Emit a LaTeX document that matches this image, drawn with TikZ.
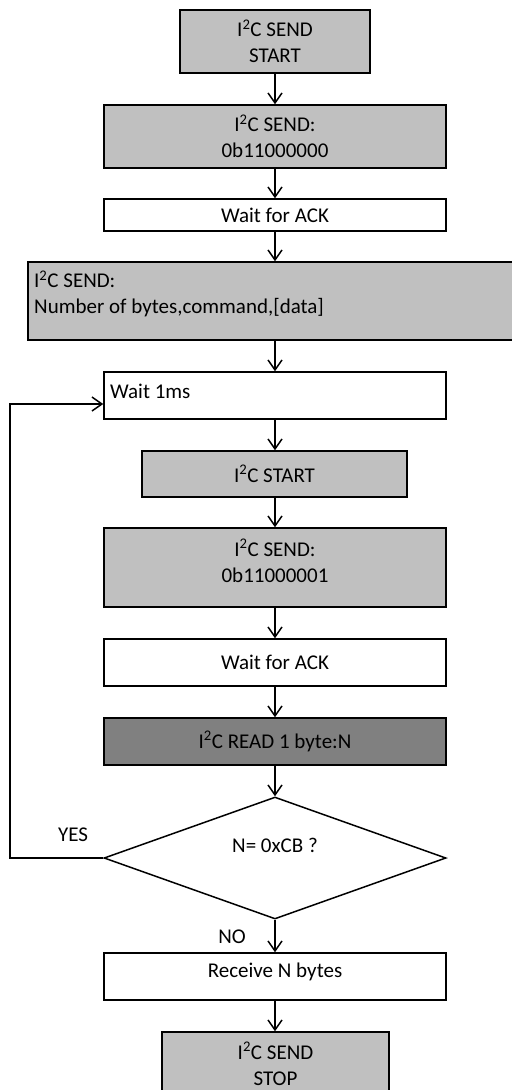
\documentclass[tikz,border=0pt]{standalone}
\usepackage{fontspec}
\setmainfont{Carlito}
\usetikzlibrary{arrows.meta,shapes.geometric}
\definecolor{lightg}{HTML}{C0C0C0}
\definecolor{darkg}{HTML}{808080}
\begin{document}
\begin{tikzpicture}[x=1bp,y=-1bp,
  font=\fontsize{21bp}{26bp}\selectfont,
  box/.style={draw=black, line width=1.5bp, inner sep=0pt, align=center, rectangle},
  gbox/.style={box, fill=lightg},
  dbox/.style={box, fill=darkg},
  txt/.style={inner sep=0pt, align=center},
  arr/.style={line width=1.5bp, -{Straight Barb[length=10bp,width=14bp,line width=1.5bp]}},
  lab/.style={inner sep=0pt}
]
\useasboundingbox (0,0) rectangle (512,1090);
\clip (0,0) rectangle (512,1090);

\node[gbox, minimum width=190bp, minimum height=63bp] (b1) at (275,41.5) {I\textsuperscript{2}C SEND\\START};
\node[gbox, minimum width=342bp, minimum height=63bp] (b2) at (275,136.5) {I\textsuperscript{2}C SEND:\\0b11000000};
\node[box, minimum width=342bp, minimum height=32bp] (b3) at (275,215) {Wait for ACK};
\node[gbox, minimum width=492bp, minimum height=78bp] (b4) at (274,301) {};
\node[txt, anchor=west, align=left] (t4) at (34,294) {I\textsuperscript{2}C SEND:\\Number of bytes,command,[data]};
\node[box, minimum width=342bp, minimum height=47bp] (b5) at (275,395.5) {};
\node[txt, anchor=west] (t5) at (110,391) {Wait 1ms};
\node[gbox, minimum width=265bp, minimum height=46bp] (b6) at (274.5,474) {I\textsuperscript{2}C START};
\node[gbox, minimum width=342bp, minimum height=79bp] (b7) at (275,567.5) {};
\node[txt] (t7) at (275,561) {I\textsuperscript{2}C SEND:\\0b11000001};
\node[box, minimum width=342bp, minimum height=47bp] (b8) at (275,662.5) {Wait for ACK};
\node[dbox, minimum width=342bp, minimum height=47bp] (b9) at (275,741.5) {I\textsuperscript{2}C READ 1 byte:N};
\node[draw=black, line width=1.5bp, fill=white, diamond, inner sep=0pt, minimum width=342bp, minimum height=122bp] (d) at (275,858) {};
\node[txt] (td) at (275,845) {N= 0xCB ?};
\node[box, minimum width=342bp, minimum height=47bp] (b10) at (275,976.5) {};
\node[txt] (t10) at (275,972) {Receive N bytes};
\node[gbox, minimum width=227bp, minimum height=64bp] (b11) at (275.5,1064) {I\textsuperscript{2}C SEND\\STOP};

\node[lab] (yes) at (73,835) {YES};
\node[lab] (no) at (232,937) {NO};

\coordinate (lp) at (10,858);

\draw[arr] (b1.south) -- (b1.south |- b2.north);
\draw[arr] (b2.south) -- (b2.south |- b3.north);
\draw[arr] (b3.south) -- (b3.south |- b4.north);
\draw[arr] (b3.south |- b4.south) -- (b5.north);
\draw[arr] (b5.south) -- (b5.south |- b6.north);
\draw[arr] (b5.south |- b6.south) -- (b7.north);
\draw[arr] (b7.south) -- (b8.north);
\draw[arr] (b8.south) -- (b9.north);
\draw[arr] (b9.south) -- (d.north);
\draw[arr] (d.south) -- (b10.north);
\draw[arr] (b10.south) -- (b10.south |- b11.north);
\draw[arr] (d.west) -- (lp) |- ([yshift=-8.5bp]b5.west);
\end{tikzpicture}
\end{document}
